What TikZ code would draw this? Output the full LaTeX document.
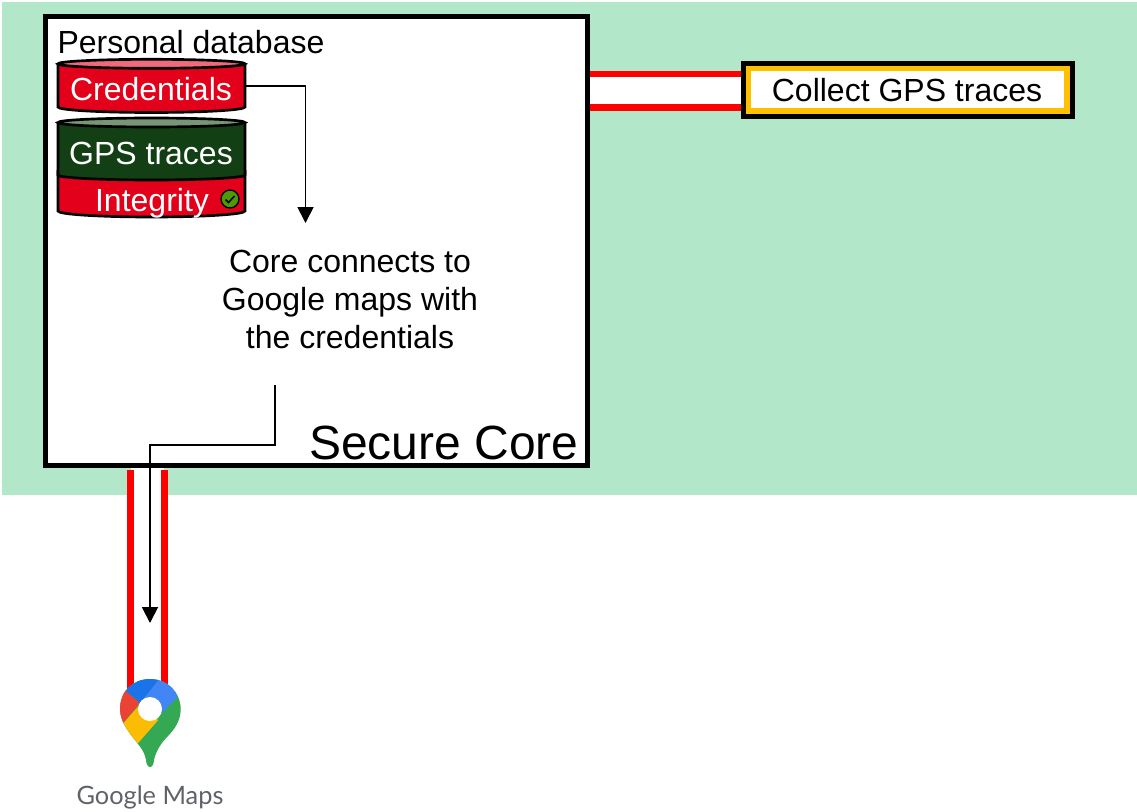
\documentclass[tikz,border=0pt]{standalone}
\usepackage{fontspec}
\setmainfont{Liberation Sans}
\newfontfamily\gmfont{Lato}
\usetikzlibrary{arrows.meta}
\definecolor{zonegreen}{HTML}{B2E7CA}
\definecolor{dbred}{HTML}{E2001A}
\definecolor{dbredtop}{HTML}{F06A7E}
\definecolor{dbgreen}{HTML}{133F14}
\definecolor{dbgreentop}{HTML}{769676}
\definecolor{gold}{HTML}{FFC000}
\definecolor{linkred}{HTML}{FF0000}
\definecolor{okgreen}{HTML}{4E9A06}
\definecolor{gmblue}{HTML}{1A73E8}
\definecolor{gmlblue}{HTML}{4285F4}
\definecolor{gmred}{HTML}{EA4335}
\definecolor{gmyellow}{HTML}{FBBC04}
\definecolor{gmgreen}{HTML}{34A853}
\definecolor{gmgray}{HTML}{5F6368}
\tikzset{
  lbl/.style={inner sep=0pt,outer sep=0pt,anchor=base},
  txt/.style={lbl,font=\fontsize{24}{24}\selectfont,text=black},
  dbtxt/.style={lbl,font=\fontsize{24}{24}\selectfont,text=white},
  flowthin/.style={draw=black,line width=1.4pt,-{Triangle[length=12pt,width=12pt]}},
  link/.style={draw=linkred,line width=5pt},
  dbline/.style={draw=black,line width=2pt},
  heavybox/.style={draw=black,line width=3.75pt,inner sep=0pt,outer sep=0pt,anchor=north west},
}
\begin{document}
\begin{tikzpicture}[x=0.75pt,y=-0.75pt]
\useasboundingbox (0,0) rectangle (1137,811);
% zone
\fill[zonegreen] (2,2) rectangle (1137,495);
% horizontal link
\fill[white] (589,74) rectangle (742,107);
\coordinate (la1) at (589,74); \coordinate (lb1) at (742,74);
\coordinate (la2) at (589,107.5); \coordinate (lb2) at (742,107.5);
\draw[link] (la1) -- (lb1);
\draw[link] (la2) -- (lb2);
% vertical link
\fill[white] (131,467) rectangle (164,690);
\coordinate (va1) at (130.7,470); \coordinate (vb1) at (130.7,690);
\coordinate (va2) at (164.3,470); \coordinate (vb2) at (164.3,690);
\draw[link] (va1) -- (vb1);
\draw[link] (va2) -- (vb2);
% secure core
\node[heavybox,fill=white,minimum width=407.2pt,minimum height=336.4pt] (core) at (45,16.5) {};
\node[lbl,font=\fontsize{36}{36}\selectfont] (sc) at (444,459) {Secure Core};
\node[txt] (pd) at (191,53) {Personal database};
% credentials cylinder
\draw[dbline,fill=dbred] (58,64) -- (58,107) arc[start angle=180,end angle=0,x radius=93.5,y radius=5.5] -- (245,64);
\draw[dbline,fill=dbredtop] (151.5,63.8) ellipse[x radius=93.5,y radius=4.5];
\node[dbtxt] (cred) at (151,100) {Credentials};
% GPS cylinder
\draw[dbline,fill=dbred] (58,170) -- (58,211) arc[start angle=180,end angle=0,x radius=93.5,y radius=6] -- (245,170);
\draw[dbline,fill=dbgreen] (58,122) -- (58,175) arc[start angle=180,end angle=0,x radius=93.5,y radius=5] -- (245,122);
\draw[dbline,fill=dbgreentop] (151.5,122.5) ellipse[x radius=93.5,y radius=4.5];
\node[dbtxt] (gps) at (151,164) {GPS traces};
\node[dbtxt] (integ) at (152,211) {Integrity};
\node[circle,draw=black,line width=1pt,fill=okgreen,minimum size=13.5pt,inner sep=0pt] (ok) at (230,199) {};
\draw[black,line width=1.1pt] (225.5,199.5) -- (228.5,202.5) -- (234.5,196);
% caption
\node[txt,align=center,anchor=center,font=\fontsize{24}{28.5}\selectfont] (note) at (350,299) {Core connects to\\Google maps with\\the credentials};
% collector box
\node[heavybox,fill=gold,minimum width=246.8pt,minimum height=39.8pt] (gpsbox) at (743.5,63.5) {};
\fill[white] (751,71) rectangle (1063.5,108);
\node[txt] (collect) at (907,101) {Collect GPS traces};
% arrows
\coordinate (c1e) at (246,86);
\coordinate (c1t) at (305.5,223);
\coordinate (n1s) at (275,385);
\coordinate (n1t) at (150,623);
\draw[flowthin] (c1e) -| (c1t);
\draw[flowthin] (n1s) -- (275,445) -- (150,445) -- (n1t);
% Google Maps pin
\begin{scope}
\clip (150,679) .. controls (168,679) and (180.7,693) .. (180.7,709.3)
  .. controls (180.7,720) and (175,729) .. (168,736)
  .. controls (161,743) and (155,752) .. (153.5,763)
  .. controls (152.8,768.5) and (147.5,768.5) .. (146.5,763)
  .. controls (145,752) and (141,748) .. (137.3,743)
  .. controls (131,735) and (120,723) .. (120,709)
  .. controls (120,691) and (133,679) .. (150,679) -- cycle;
\fill[gmgreen] (110,670) rectangle (190,775);
\fill[gmred] (110,677) -- (140,703) -- (110,738.5) -- cycle;
\fill[gmyellow] (110,738.5) -- (139.3,705) -- (158.3,720) -- (137.3,744) -- (118,768) -- (110,768) -- cycle;
\fill[gmblue] (110,677) -- (140,703) -- (143.3,699.3) -- (165,672) -- (110,660) -- cycle;
\fill[gmlblue] (165,672) -- (143.3,699.3) -- (160,715) -- (190,684) -- (190,672) -- cycle;
\end{scope}
\fill[white] (150,709) circle[radius=12];
\node[lbl,font=\gmfont\fontsize{19}{19}\selectfont,text=gmgray] (gm) at (150,804) {Google Maps};
\end{tikzpicture}
\end{document}
